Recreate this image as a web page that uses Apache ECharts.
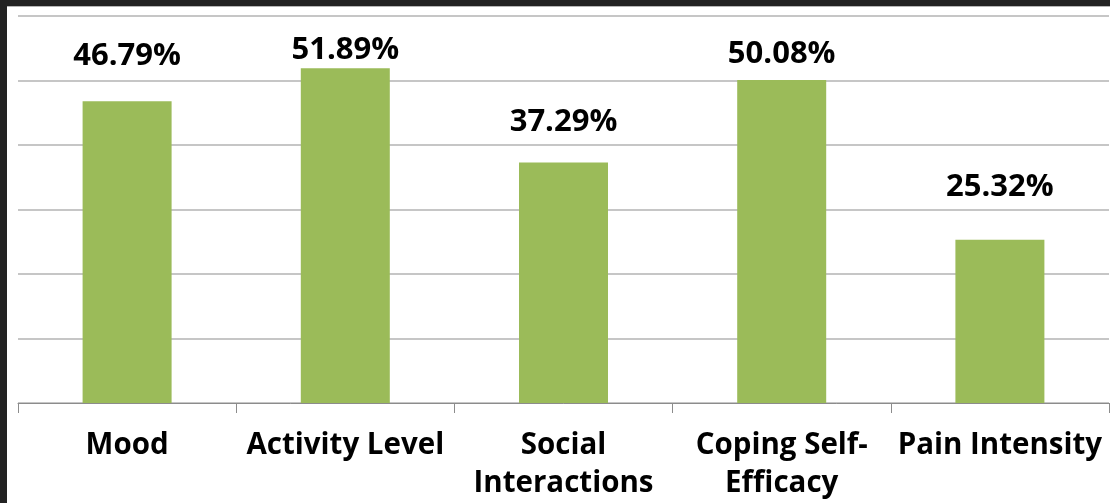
<!DOCTYPE html>
<html>
<head>
<meta charset="utf-8">
<script src="https://cdn.jsdelivr.net/npm/echarts@6/dist/echarts.min.js"></script>
<style>
  html, body { margin: 0; padding: 0; width: 1110px; height: 503px; background: #222222; overflow: hidden; }
  #topline { position: absolute; left: 7px; top: 6px; width: 1103px; height: 1px; background: #b5b5b5; }
  #chart { position: absolute; left: 7px; top: 7px; width: 1103px; height: 496px; background: #ffffff; }
</style>
</head>
<body>
<div id="topline"></div>
<div id="chart"></div>
<script>
const categories = ['Mood', 'Activity Level', 'Social\nInteractions', 'Coping Self-\nEfficacy', 'Pain Intensity'];
const values = [46.79, 51.89, 37.29, 50.08, 25.32];
const labelGaps = [30, 3, 25, 11, 38];

const chart = echarts.init(document.getElementById('chart'));
chart.setOption({
  animation: false,
  grid: { left: 11, right: 1, top: 9, bottom: 98 },
  xAxis: {
    type: 'category',
    data: categories,
    axisLine: { lineStyle: { color: '#8c8c8c', width: 1 } },
    axisTick: { show: true, length: 10, lineStyle: { color: '#8c8c8c' } },
    axisLabel: {
      interval: 0,
      margin: 24,
      color: '#000000',
      fontFamily: 'Open Sans',
      fontWeight: 'bold',
      fontSize: 29.5,
      lineHeight: 38
    }
  },
  yAxis: {
    type: 'value',
    min: 0,
    max: 60,
    interval: 10,
    axisLine: { show: false },
    axisTick: { show: false },
    axisLabel: { show: false },
    splitLine: { lineStyle: { color: '#b3b3b3', width: 1.5 } }
  },
  series: [{
    type: 'bar',
    barWidth: 89,
    itemStyle: { color: '#9BBB59' },
    data: values.map((v, i) => ({
      value: v,
      label: { distance: labelGaps[i] }
    })),
    label: {
      show: true,
      position: 'top',
      color: '#000000',
      fontFamily: 'Open Sans',
      fontWeight: 'bold',
      fontSize: 31,
      lineHeight: 30,
      formatter: p => p.value.toFixed(2) + '%'
    }
  }]
});
</script>
</body>
</html>
